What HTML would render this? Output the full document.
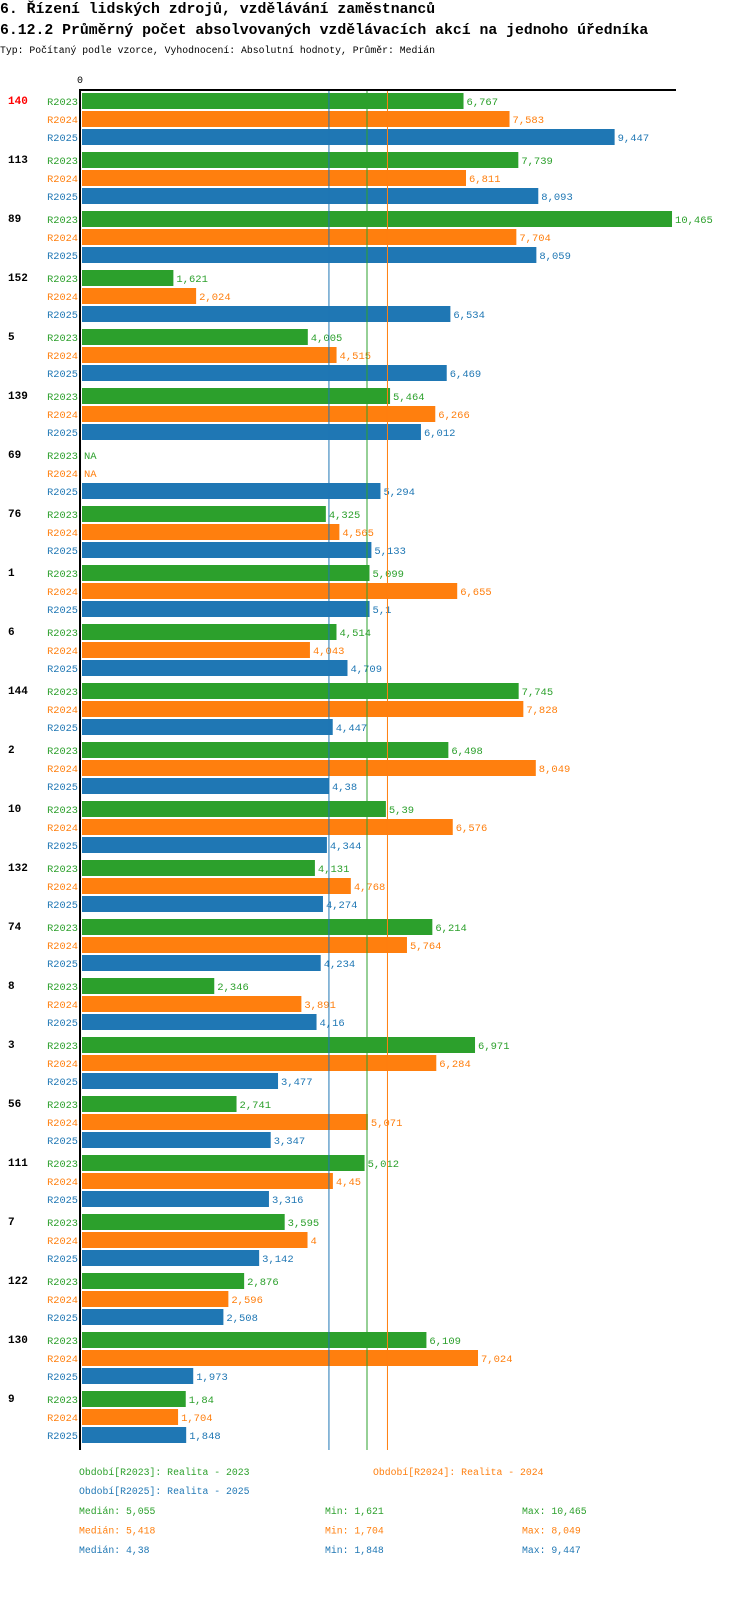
<!DOCTYPE html>
<html><head><meta charset="utf-8"><style>
body{margin:0;background:#fff;width:750px;height:1592px;overflow:hidden;font-family:"Liberation Mono",monospace}
svg text{font-family:"Liberation Mono",monospace}
</style></head><body>
<svg id="chart" width="750" height="1592" xmlns="http://www.w3.org/2000/svg">
<text x="0" y="13" font-size="14.8" font-weight="bold">6. Řízení lidských zdrojů, vzdělávání zaměstnanců</text>
<text x="0" y="34" font-size="14.8" font-weight="bold">6.12.2 Průměrný počet absolvovaných vzdělávacích akcí na jednoho úředníka</text>
<text x="0" y="53" font-size="9.8">Typ: Počítaný podle vzorce, Vyhodnocení: Absolutní hodnoty, Průměr: Medián</text>
<g id="plot"></g>
</svg>
<script>
const categories=["140","113","89","152","5","139","69","76","1","6","144","2","10","132","74","8","3","56","111","7","122","130","9"];
const r2023=[6.767,7.739,10.465,1.621,4.005,5.464,null,4.325,5.099,4.514,7.745,6.498,5.39,4.131,6.214,2.346,6.971,2.741,5.012,3.595,2.876,6.109,1.84];
const r2024=[7.583,6.811,7.704,2.024,4.515,6.266,null,4.565,6.655,4.043,7.828,8.049,6.576,4.768,5.764,3.891,6.284,5.071,4.45,4,2.596,7.024,1.704];
const r2025=[9.447,8.093,8.059,6.534,6.469,6.012,5.294,5.133,5.1,4.709,4.447,4.38,4.344,4.274,4.234,4.16,3.477,3.347,3.316,3.142,2.508,1.973,1.848];
const seriesNames=["R2023","R2024","R2025"];
const medians=[5.055,5.418,4.38];
const mins=[1.621,1.704,1.848];
const maxs=[10.465,8.049,9.447];
const colors=["#2ca02c","#ff7f0e","#1f77b4"];
const NS="http://www.w3.org/2000/svg";
const g=document.getElementById('plot');
const x0=82,k=56.38;
const xs=v=>x0+v*k;
const gy=i=>93+59*i;
function el(t,a,txt){const e=document.createElementNS(NS,t);for(const n in a)e.setAttribute(n,a[n]);if(txt!=null)e.textContent=txt;g.appendChild(e);return e;}
const fmt=v=>String(v).replace('.',',');
let t=el('text',{x:77,y:83,'font-size':10},'0');


const series=[r2023,r2024,r2025];
categories.forEach((c,i)=>{
  const y=gy(i);
  let lab=el('text',{x:8,y:y+11,'font-size':11,'font-weight':'bold',fill:i===0?'#ff0000':'#000'},c);
  
  
  series.forEach((s,j)=>{
    const by=y+18*j;
    let sl=el('text',{x:78,y:by+12,'font-size':10.3,fill:colors[j],'text-anchor':'end'},seriesNames[j]);
    
    
    const v=s[i];
    if(v==null){
      let na=el('text',{x:x0+2,y:by+12,'font-size':10.5,fill:colors[j]},'NA');
      
      
      return;
    }
    let r=el('rect',{x:x0,y:by,width:xs(v)-x0,height:16,fill:colors[j]});
    
    
    let vl=el('text',{x:xs(v)+3,y:by+12,'font-size':10.5,fill:colors[j]},fmt(v));
    
    
  });
});
medians.forEach((m,j)=>{
  let l=el('line',{x1:xs(m),x2:xs(m),y1:89,y2:1450,stroke:colors[j],'stroke-width':1});
  
  
});
let ax=el('line',{x1:80,x2:80,y1:89,y2:1450,stroke:'#000','stroke-width':2});


let tx=el('line',{x1:79,x2:676,y1:90,y2:90,stroke:'#000','stroke-width':2});


const legendPos=[[79,1475],[373,1475],[79,1494]];
seriesNames.forEach((n,j)=>{
  let le=el('text',{x:legendPos[j][0],y:legendPos[j][1],'font-size':9.8,fill:colors[j]},'Období['+n+']: Realita - '+n.slice(1));
  
  
  const y=1514+19.5*j;
  let a=el('text',{x:79,y:y,'font-size':9.8,fill:colors[j]},'Medián: '+fmt(medians[j]));
  
  
  let b=el('text',{x:325,y:y,'font-size':9.8,fill:colors[j]},'Min: '+fmt(mins[j]));
  
  
  let c=el('text',{x:522,y:y,'font-size':9.8,fill:colors[j]},'Max: '+fmt(maxs[j]));
  
  
});
</script>
</body></html>
